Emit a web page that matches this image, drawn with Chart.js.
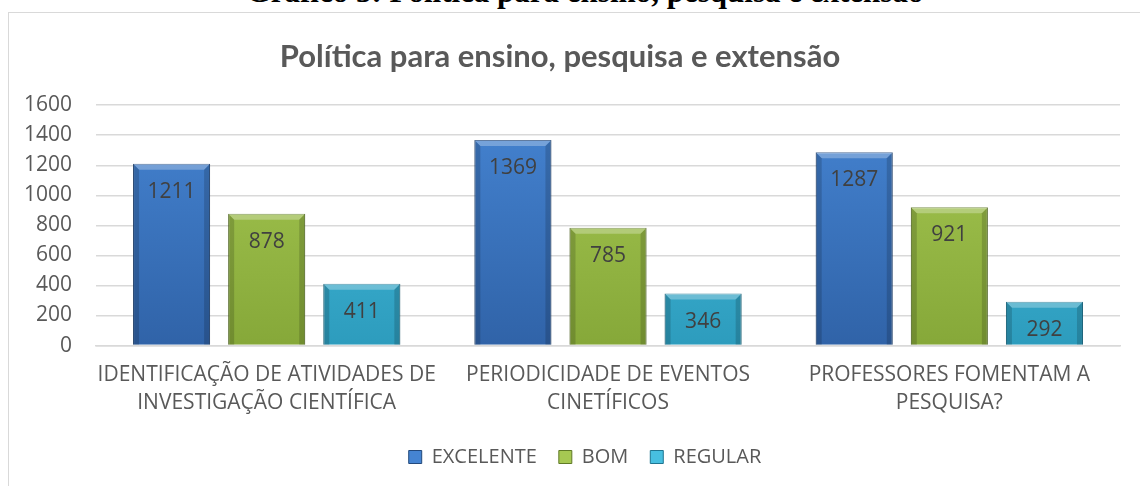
<!DOCTYPE html>
<html>
<head>
<meta charset="utf-8">
<script src="https://cdn.jsdelivr.net/npm/chart.js@4"></script>
<style>
  body { margin: 0; background: #fff; width: 1140px; height: 486px; overflow: hidden; position: relative; }
  #top { position: absolute; left: 0; width: 1170px; top: -26px; text-align: center;
         font: bold 31px "Liberation Serif", serif; color: #000; white-space: nowrap; }
  #box { position: absolute; left: 8px; top: 12px; width: 1150px; height: 490px;
         border: 1px solid #d9d9d9; box-sizing: border-box; }
  #chart { position: absolute; left: 0; top: 0; }
</style>
</head>
<body>
<div id="top">Gráfico 3: Política para ensino, pesquisa e extensão</div>
<div id="box"><canvas id="chart" width="1131" height="474"></canvas></div>
<script>
var categories = [
    ['IDENTIFICAÇÃO DE ATIVIDADES DE', 'INVESTIGAÇÃO CIENTÍFICA'],
    ['PERIODICIDADE DE EVENTOS', 'CINETÍFICOS'],
    ['PROFESSORES FOMENTAM A', 'PESQUISA?']
]
var seriesNames = ['EXCELENTE', 'BOM', 'REGULAR']
var excelente = [1211, 1369, 1287]
var bom = [878, 785, 921]
var regular = [411, 346, 292]
var yTicks = [0, 200, 400, 600, 800, 1000, 1200, 1400, 1600]

var shades = [
    { top: '#4584d2', bottom: '#3063a8', edge: '#23497c' },
    { top: '#a6c852', bottom: '#86a839', edge: '#5f7a26' },
    { top: '#47bfe0', bottom: '#2d9cbd', edge: '#1f7590' }
]

function fillFor(i) {
    return function (c) {
        const area = c.chart.chartArea
        if (!area) return shades[i].top
        const g = c.chart.ctx.createLinearGradient(0, area.top, 0, area.bottom)
        g.addColorStop(0, shades[i].top)
        g.addColorStop(1, shades[i].bottom)
        return g
    }
}

// bevel + value labels
const barDeco = {
    id: 'barDeco',
    afterLayout(chart) {
        // legend is centred on the whole frame in the original, not the plot
        chart.legend.left += 25
        chart.legend.right += 25
    },
    afterDatasetsDraw(chart) {
        const ctx = chart.ctx
        chart.data.datasets.forEach((ds, di) => {
            chart.getDatasetMeta(di).data.forEach((bar, i) => {
                const l = bar.x - bar.width / 2, r = bar.x + bar.width / 2
                const t = bar.y, b = bar.base, d = 6
                ctx.save()
                ctx.fillStyle = 'rgba(255,255,255,0.28)'
                ctx.beginPath()
                ctx.moveTo(l, t); ctx.lineTo(r, t); ctx.lineTo(r - d, t + d); ctx.lineTo(l + d, t + d)
                ctx.closePath(); ctx.fill()
                ctx.fillStyle = 'rgba(0,0,0,0.16)'
                ctx.beginPath()
                ctx.moveTo(l, t); ctx.lineTo(l + d, t + d); ctx.lineTo(l + d, b); ctx.lineTo(l, b)
                ctx.closePath(); ctx.fill()
                ctx.beginPath()
                ctx.moveTo(r, t); ctx.lineTo(r - d, t + d); ctx.lineTo(r - d, b); ctx.lineTo(r, b)
                ctx.closePath(); ctx.fill()
                ctx.fillStyle = '#404040'
                ctx.font = '21px "Open Sans", sans-serif'
                ctx.textAlign = 'center'
                ctx.textBaseline = 'middle'
                ctx.fillText(ds.data[i], bar.x, t + 28)
                ctx.restore()
            })
        })
    }
}

const data = [excelente, bom, regular]

new Chart(document.getElementById('chart'), {
    type: 'bar',
    data: {
        labels: categories,
        datasets: seriesNames.map((name, i) => ({
            label: name,
            data: data[i],
            backgroundColor: fillFor(i),
            borderColor: shades[i].edge,
            borderWidth: 1,
            categoryPercentage: 0.836,
            barPercentage: 0.81
        }))
    },
    options: {
        responsive: false,
        animation: false,
        layout: { padding: { left: -9, right: 20, top: 4, bottom: 10 } },
        plugins: {
            title: {
                display: true,
                text: 'Política para ensino, pesquisa e extensão',
                color: '#595959',
                font: { family: 'Lato', size: 31, weight: 'bold' },
                padding: { top: 21, bottom: 30 }
            },
            legend: {
                position: 'bottom',
                labels: {
                    color: '#595959',
                    font: { family: '"Open Sans"', size: 20 },
                    boxWidth: 13,
                    boxHeight: 13,
                    padding: 22,
                    generateLabels(chart) {
                        return chart.data.datasets.map((ds, i) => ({
                            text: ds.label,
                            fillStyle: shades[i].top,
                            strokeStyle: shades[i].edge,
                            lineWidth: 1,
                            fontColor: '#595959',
                            datasetIndex: i
                        }))
                    }
                }
            },
            tooltip: { enabled: false }
        },
        scales: {
            x: {
                grid: { display: false },
                border: { color: '#d9d9d9', width: 1.5 },
                afterFit(scale) { scale.paddingLeft = 0; scale.paddingRight = 0 },
                ticks: {
                    color: '#595959',
                    font: { family: '"Open Sans"', size: 21, lineHeight: 1.32 },
                    maxRotation: 0,
                    autoSkip: false,
                    padding: 8
                }
            },
            y: {
                min: 0,
                max: 1600,
                afterBuildTicks(axis) { axis.ticks = yTicks.map(v => ({ value: v })) },
                grid: { color: '#d9d9d9', lineWidth: 1.5, drawTicks: false },
                border: { display: false },
                ticks: {
                    color: '#595959',
                    font: { family: '"Open Sans"', size: 21 },
                    padding: 24,
                    callback: v => String(v)
                }
            }
        }
    },
    plugins: [barDeco]
})
</script>
</body>
</html>
